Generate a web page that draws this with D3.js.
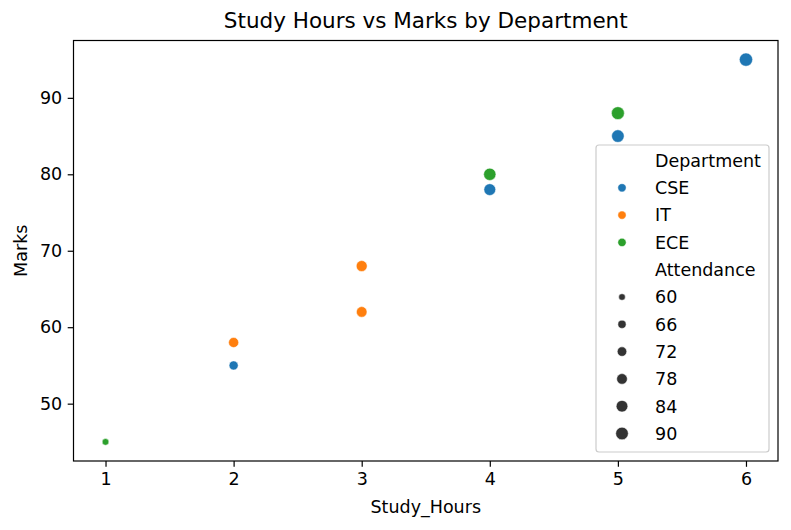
<!DOCTYPE html>
<html><head><meta charset="utf-8">
<script src="https://cdn.jsdelivr.net/npm/d3@7"></script>
<style>body{margin:0;background:#fff}svg{display:block}text{font-family:"DejaVu Sans",sans-serif;fill:#000}</style>
</head><body><svg id="c" width="791" height="530"></svg>
<script>
const departments = ["CSE", "IT", "ECE"];
const deptColors = ["#1f77b4", "#ff7f0e", "#2ca02c"];
const studyHours = [1, 2, 2, 3, 3, 4, 4, 5, 5, 6];
const marks      = [45, 55, 58, 62, 68, 78, 80, 85, 88, 95];
const dept       = ["ECE", "CSE", "IT", "IT", "IT", "CSE", "ECE", "CSE", "ECE", "CSE"];
const attendance = [60, 70, 75, 78, 80, 85, 88, 90, 92, 95];
const xTicks = [1, 2, 3, 4, 5, 6];
const yTicks = [50, 60, 70, 80, 90];
const sizeLegendValues = [60, 66, 72, 78, 84, 90];

const svg = d3.select("#c");
const m = {l: 73.5, r: 778, t: 40.5, b: 461};
const x = d3.scaleLinear().domain([0.75, 6.25]).range([m.l, m.r]);
const y = d3.scaleLinear().domain([42.5, 97.5]).range([m.b, m.t]);
const color = d3.scaleOrdinal().domain(departments).range(deptColors);
const pt = 100 / 72;
const area = d3.scaleLinear().domain(d3.extent(attendance)).range([18, 72]);
const rad = v => Math.sqrt(area(v) / Math.PI) * pt;
const FS = 17.5;

// points
const data = studyHours.map((h, i) => ({h, m: marks[i], d: dept[i], a: attendance[i]}));
svg.append("g").selectAll("circle").data(data).join("circle")
  .attr("cx", d => x(d.h)).attr("cy", d => y(d.m)).attr("r", d => rad(d.a))
  .attr("fill", d => color(d.d)).attr("stroke", "#fff").attr("stroke-width", 0.5);

// axes
const xAxis = svg.append("g").attr("transform", `translate(0,${m.b})`)
  .call(d3.axisBottom(x).tickValues(xTicks).tickFormat(d3.format("d")).tickSizeOuter(0).tickSize(5.8).tickPadding(5.5));
const yAxis = svg.append("g").attr("transform", `translate(${m.l},0)`)
  .call(d3.axisLeft(y).tickValues(yTicks).tickFormat(d3.format("d")).tickSizeOuter(0).tickSize(5.8).tickPadding(5.5));
[xAxis, yAxis].forEach(a => {
  a.select(".domain").remove();
  a.selectAll(".tick line").attr("stroke", "#000").attr("stroke-width", 1.2);
  a.selectAll(".tick text").attr("font-size", FS).attr("font-family", "DejaVu Sans").attr("fill", "#000");
});
svg.append("rect").attr("x", m.l).attr("y", m.t).attr("width", m.r - m.l).attr("height", m.b - m.t)
  .attr("fill", "none").attr("stroke", "#000").attr("stroke-width", 1.2);

// labels
svg.append("text").attr("x", (m.l + m.r) / 2).attr("y", 28).attr("text-anchor", "middle")
  .attr("font-size", 21.5).text("Study Hours vs Marks by Department");
svg.append("text").attr("x", (m.l + m.r) / 2).attr("y", 513).attr("text-anchor", "middle")
  .attr("font-size", FS).text("Study_Hours");
svg.append("text").attr("transform", `translate(27,${(m.t + m.b) / 2}) rotate(-90)`).attr("text-anchor", "middle")
  .attr("font-size", FS).text("Marks");

// legend
const lg = svg.append("g");
lg.append("rect").attr("x", 596).attr("y", 145).attr("width", 173).attr("height", 307).attr("rx", 3)
  .attr("fill", "#fff").attr("fill-opacity", 0.8).attr("stroke", "#cccccc").attr("stroke-width", 1.2);
const rows = [{t: "Department"}]
  .concat(departments.map(d => ({t: d, c: color(d), r: 6 * pt / 2})))
  .concat([{t: "Attendance"}])
  .concat(sizeLegendValues.map(v => ({t: String(v), c: "#333333", r: rad(v)})));
rows.forEach((r, i) => {
  const cy = 160.5 + i * 27.3;
  if (r.c) lg.append("circle").attr("cx", 622).attr("cy", cy).attr("r", r.r).attr("fill", r.c)
    .attr("stroke", "#fff").attr("stroke-width", 0.5);
  lg.append("text").attr("x", 655).attr("y", cy).attr("dy", "0.36em").attr("font-size", FS).text(r.t);
});
</script></body></html>
